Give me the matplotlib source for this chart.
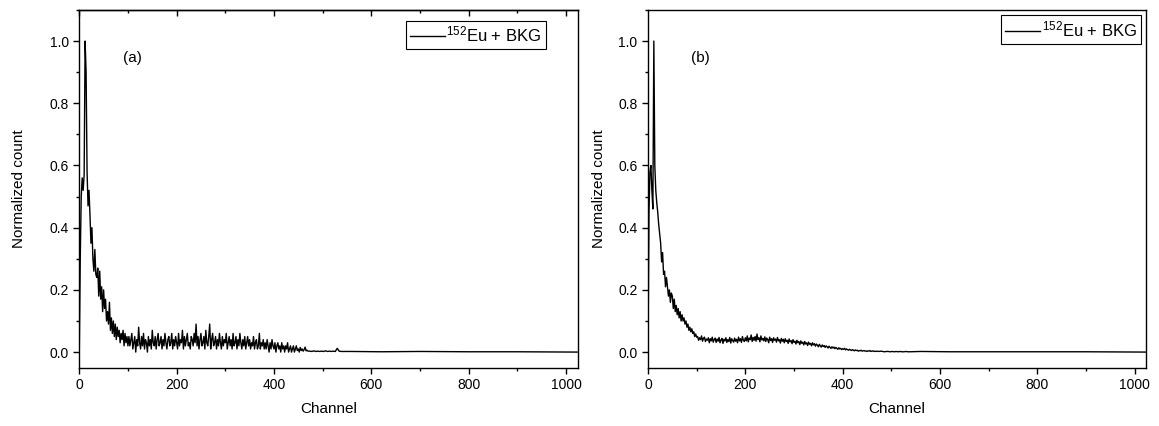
import numpy as np
import matplotlib
matplotlib.use("Agg")
import matplotlib.pyplot as plt
from matplotlib.ticker import MultipleLocator

plt.rcParams["font.family"] = ["Liberation Sans", "DejaVu Sans"]
plt.rcParams["mathtext.default"] = "regular"

# channel grids: every 2nd channel where the spectrum is busy, sparser later
ch_head = list(range(0, 102, 2))
ch_body = list(range(102, 472, 2))
ch_mid = list(range(474, 542, 4))
ch_tail = [560, 620, 700, 800, 900, 1023]

# (a) 152Eu + BKG, normalized counts
a_head = [0.0, 0.30, 0.50, 0.56, 0.52, 0.57, 1.00, 0.90, 0.58, 0.47,
          0.52, 0.44, 0.35, 0.40, 0.30, 0.26, 0.33, 0.25, 0.24, 0.27,
          0.18, 0.26, 0.17, 0.21, 0.13, 0.20, 0.14, 0.17, 0.10, 0.13,
          0.09, 0.16, 0.07, 0.11, 0.06, 0.10, 0.05, 0.09, 0.04, 0.08,
          0.05, 0.07, 0.03, 0.06, 0.04, 0.07, 0.02, 0.06, 0.03, 0.05,
          0.02]
a_body = [0.05, 0.02, 0.04, 0.06, 0.01, 0.03, 0.05, 0.00, 0.04, 0.02,
          0.08, 0.03, 0.01, 0.05, 0.02, 0.06, 0.01, 0.04, 0.03, 0.00,
          0.05, 0.02, 0.04, 0.01, 0.07, 0.03, 0.02, 0.05, 0.01, 0.04,
          0.06, 0.02, 0.03, 0.05, 0.01, 0.04, 0.02, 0.06, 0.03, 0.01,
          0.04, 0.05, 0.02, 0.03, 0.06, 0.01, 0.04, 0.02, 0.05, 0.03,
          0.01, 0.06, 0.02, 0.04, 0.03, 0.07, 0.01, 0.05, 0.02, 0.04,
          0.06, 0.02, 0.03, 0.01, 0.05, 0.04, 0.02, 0.06, 0.03, 0.09,
          0.02, 0.05, 0.01, 0.04, 0.06, 0.02, 0.03, 0.05, 0.01, 0.07,
          0.03, 0.02, 0.05, 0.09, 0.01, 0.04, 0.06, 0.02, 0.03, 0.05,
          0.01, 0.04, 0.02, 0.06, 0.03, 0.01, 0.05, 0.02, 0.04, 0.03,
          0.06, 0.01, 0.03, 0.05, 0.02, 0.04, 0.01, 0.06, 0.02, 0.03,
          0.05, 0.01, 0.04, 0.02, 0.06, 0.03, 0.01, 0.04, 0.02, 0.05,
          0.01, 0.03, 0.05, 0.02, 0.04, 0.01, 0.03, 0.02, 0.05, 0.01,
          0.03, 0.04, 0.01, 0.02, 0.06, 0.01, 0.03, 0.02, 0.04, 0.01,
          0.03, 0.01, 0.04, 0.02, 0.00, 0.03, 0.01, 0.04, 0.02, 0.01,
          0.03, 0.00, 0.02, 0.03, 0.01, 0.02, 0.00, 0.03, 0.01, 0.02,
          0.00, 0.02, 0.01, 0.03, 0.00, 0.01, 0.02, 0.00, 0.01, 0.02,
          0.00, 0.01, 0.02, 0.005, 0.01, 0.00, 0.015, 0.005, 0.01, 0.003,
          0.008, 0.016, 0.004, 0.006, 0.003]
a_mid = [0.003, 0.002, 0.004, 0.002, 0.003, 0.002, 0.003, 0.002, 0.004,
         0.002, 0.003, 0.002, 0.003, 0.002, 0.012, 0.003, 0.002]
a_tail = [0.002, 0.001, 0.002, 0.001, 0.001, 0.0]

# (b) 152Eu + BKG, normalized counts
b_head = [0.0, 0.45, 0.58, 0.60, 0.52, 0.46, 1.00, 0.60, 0.52, 0.48,
          0.45, 0.41, 0.38, 0.35, 0.29, 0.32, 0.25, 0.26, 0.21, 0.24,
          0.21, 0.18, 0.20, 0.16, 0.19, 0.18, 0.14, 0.17, 0.13, 0.15,
          0.12, 0.14, 0.11, 0.13, 0.10, 0.12, 0.10, 0.11, 0.09, 0.10,
          0.08, 0.09, 0.07, 0.08, 0.065, 0.075, 0.06, 0.065, 0.05, 0.058,
          0.048]
b_body = [0.050, 0.038, 0.046, 0.040, 0.052, 0.035, 0.044, 0.048, 0.034, 0.042,
          0.038, 0.046, 0.030, 0.043, 0.036, 0.048, 0.032, 0.040, 0.045, 0.031,
          0.042, 0.035, 0.047, 0.030, 0.039, 0.044, 0.028, 0.041, 0.036, 0.046,
          0.031, 0.040, 0.034, 0.047, 0.029, 0.043, 0.037, 0.032, 0.045, 0.035,
          0.041, 0.030, 0.048, 0.036, 0.043, 0.031, 0.050, 0.038, 0.034, 0.046,
          0.036, 0.052, 0.033, 0.045, 0.040, 0.055, 0.034, 0.047, 0.038, 0.050,
          0.035, 0.058, 0.040, 0.046, 0.033, 0.052, 0.039, 0.044, 0.036, 0.049,
          0.034, 0.045, 0.040, 0.030, 0.048, 0.037, 0.043, 0.031, 0.046, 0.038,
          0.042, 0.032, 0.047, 0.036, 0.040, 0.029, 0.044, 0.035, 0.041, 0.030,
          0.043, 0.034, 0.038, 0.028, 0.042, 0.033, 0.037, 0.027, 0.040, 0.031,
          0.035, 0.026, 0.038, 0.030, 0.034, 0.024, 0.036, 0.028, 0.032, 0.023,
          0.034, 0.026, 0.030, 0.021, 0.032, 0.025, 0.028, 0.020, 0.030, 0.023,
          0.027, 0.019, 0.026, 0.022, 0.017, 0.025, 0.020, 0.016, 0.023, 0.018,
          0.021, 0.015, 0.020, 0.017, 0.013, 0.019, 0.015, 0.012, 0.017, 0.013,
          0.016, 0.011, 0.015, 0.012, 0.009, 0.014, 0.010, 0.012, 0.008, 0.011,
          0.009, 0.012, 0.007, 0.010, 0.008, 0.006, 0.009, 0.007, 0.005, 0.008,
          0.006, 0.004, 0.007, 0.005, 0.006, 0.003, 0.005, 0.004, 0.006, 0.003,
          0.004, 0.005, 0.003, 0.004, 0.002, 0.004, 0.003, 0.005, 0.002, 0.003,
          0.004, 0.002, 0.003, 0.002, 0.003]
b_mid = [0.002, 0.003, 0.002, 0.001, 0.002, 0.002, 0.001, 0.002, 0.001,
         0.002, 0.001, 0.002, 0.001, 0.001, 0.002, 0.001, 0.001]
b_tail = [0.002, 0.001, 0.001, 0.001, 0.001, 0.0]

channels = ch_head + ch_body + ch_mid + ch_tail
panels = [
    ("(a)", a_head + a_body + a_mid + a_tail),
    ("(b)", b_head + b_body + b_mid + b_tail),
]

fig = plt.figure(figsize=(11.59, 4.26), dpi=100)
ax_a = fig.add_axes([0.0684, 0.137, 0.430, 0.8397])
ax_b = fig.add_axes([0.5591, 0.137, 0.430, 0.8397])

for ax, (tag, counts) in zip([ax_a, ax_b], panels):
    ax.plot(channels, counts, color="black", lw=1.0, label=r"$^{152}$Eu + BKG")
    ax.set_xlim(0, 1024)
    ax.set_ylim(-0.05, 1.1)
    ax.xaxis.set_major_locator(MultipleLocator(200))
    ax.xaxis.set_minor_locator(MultipleLocator(100))
    ax.yaxis.set_major_locator(MultipleLocator(0.2))
    ax.yaxis.set_minor_locator(MultipleLocator(0.1))
    ax.yaxis.set_major_formatter("{x:.1f}")
    ax.tick_params(which="both", direction="out", labelsize=10, width=1.0)
    ax.tick_params(which="major", length=4)
    ax.tick_params(which="minor", length=2.5)
    for s in ax.spines.values():
        s.set_linewidth(1.0)
    ax.set_xlabel("Channel", fontsize=11)
    ax.set_ylabel("Normalized count", fontsize=11)
    ax.xaxis.set_label_coords(0.5, -0.096)
    ax.text(0.106, 0.866, tag, transform=ax.transAxes, fontsize=11,
            ha="center", va="center")

ax_a.yaxis.set_label_coords(-0.107, 0.5)
ax_b.yaxis.set_label_coords(-0.084, 0.5)

# panel (a) carries inward ticks along the top edge
top = ax_a.secondary_xaxis("top")
top.xaxis.set_major_locator(MultipleLocator(200))
top.xaxis.set_minor_locator(MultipleLocator(100))
top.tick_params(which="both", direction="in", labeltop=False, width=1.0)
top.tick_params(which="major", length=4)
top.tick_params(which="minor", length=2.5)
top.spines["top"].set_linewidth(1.0)

for ax, anchor in [(ax_a, (0.936, 0.970)), (ax_b, (0.990, 0.985))]:
    leg = ax.legend(loc="upper right", bbox_to_anchor=anchor, fontsize=12,
                    frameon=True, fancybox=False, handlelength=2.1,
                    handletextpad=0.1, borderpad=0.25, borderaxespad=0)
    leg.get_frame().set_edgecolor("black")
    leg.get_frame().set_linewidth(0.8)
    leg.get_frame().set_alpha(1)

fig.savefig("out.png", dpi=100)
